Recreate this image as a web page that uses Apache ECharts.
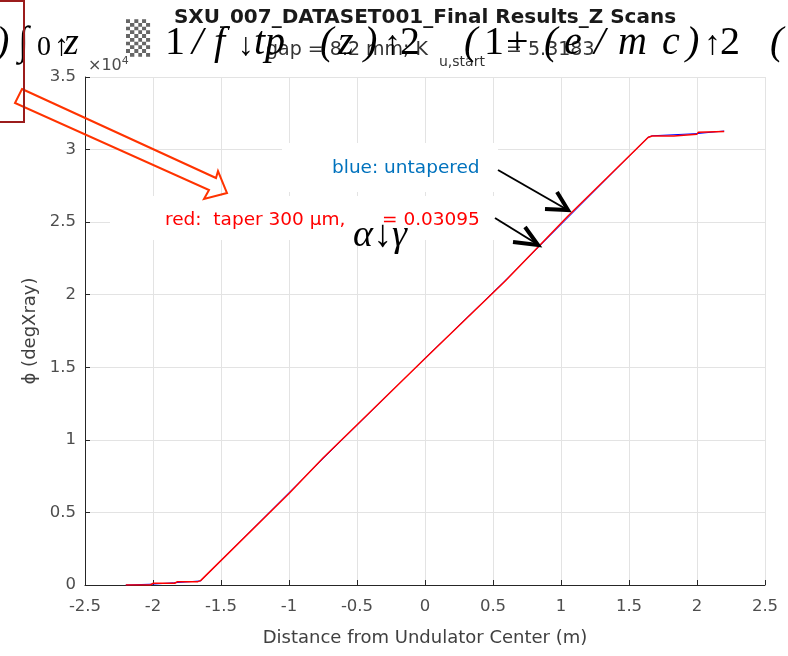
<!DOCTYPE html>
<html>
<head>
<meta charset="utf-8">
<title>SXU_007 Z Scans</title>
<script src="https://cdn.jsdelivr.net/npm/echarts@6/dist/echarts.min.js"></script>
<style>
  html, body { margin: 0; padding: 0; background: #fff; }
  #chart { width: 788px; height: 656px; }
</style>
</head>
<body>
<div id="chart"></div>
<script>
// 数据：相位 vs 位置 (红 = taper, 蓝 = untapered)
const redX = [-2.2, -2.02, -2.0, -1.84, -1.82, -1.67, -1.65, -1.0, -0.75, 0, 0.59, 1.05, 1.64, 1.67, 1.83, 1.84, 2.0, 2.01, 2.2];
const redY = [0, 0, 120, 120, 230, 230, 300, 6300, 8750, 15600, 20950, 25400, 30830, 30940, 30940, 31060, 31060, 31200, 31240];
const blueX = [-2.2, -2.0, -1.85, -1.65, -0.75, 0, 0.59, 1.64, 1.67, 2.0, 2.2];
const blueY = [0, 60, 150, 280, 8700, 15620, 20980, 30850, 30950, 31100, 31280];

const xTicks = [-2.5, 2.5, 0.5];      // min, max, interval
const yTicks = [0, 35000, 5000];

const titleText = 'SXU_007_DATASET001_Final Results_Z Scans';
const xName = 'Distance from Undulator Center (m)';
const yName = 'ϕ (degXray)';

const FONT = 'DejaVu Sans';
const SERIF = 'Liberation Serif';

const chart = echarts.init(document.getElementById('chart'));

// 公式残影 (PowerPoint 乱码公式)  [x, 字符, 样式, 字号]
const eqPieces = [
  [-4, ')', 'italic', 40], [18, '∫', 'normal', 40], [37, '0', 'normal', 28], [54, '↑', 'normal', 30],
  [64, 'z', 'italic', 38], [165, '1', 'normal', 40], [192, '/', 'italic', 40], [214, 'f', 'italic', 40],
  [238, '↓', 'normal', 32], [254, 'tp', 'italic', 40], [320, '(', 'italic', 40], [338, 'z', 'italic', 40],
  [364, ')', 'italic', 40], [384, '↑', 'normal', 34], [400, '2', 'normal', 40], [464, '(', 'italic', 40],
  [484, '1', 'normal', 40], [506, '+', 'normal', 40], [544, '(', 'italic', 40], [564, 'e', 'italic', 40],
  [594, '/', 'italic', 40], [618, 'm', 'italic', 40], [662, 'c', 'italic', 40], [686, ')', 'italic', 40],
  [704, '↑', 'normal', 34], [720, '2', 'normal', 40], [770, '(', 'italic', 40]
];

const graphics = [];

// 白色文本框 (遮住网格线)
graphics.push({ type: 'rect', z: 5, shape: { x: 282, y: 143, width: 216, height: 49 }, style: { fill: '#fff' } });
graphics.push({ type: 'rect', z: 5, shape: { x: 110, y: 196, width: 388, height: 44 }, style: { fill: '#fff' } });

eqPieces.forEach(p => {
  graphics.push({
    type: 'text', z: 20, x: p[0], y: 57 - 0.34 * p[3],
    style: {
      text: p[1], fill: '#000', textVerticalAlign: 'middle',
      font: p[2] + ' ' + p[3] + 'px "' + SERIF + '"'
    }
  });
});
graphics.push({
  type: 'text', z: 20, x: 126, y: 41, scaleX: 1.25,
  style: { text: '▒', fill: '#666', textVerticalAlign: 'middle', font: 'italic 32px "DejaVu Sans Mono"' }
});

// 标题与副标题
graphics.push({ type: 'text', z: 15, x: 425, y: 18, style: { text: titleText, fill: '#1a1a1a', textAlign: 'center', textVerticalAlign: 'middle', font: 'bold 20px "' + FONT + '"' } });
graphics.push({ type: 'text', z: 15, x: 428, y: 50, style: { text: 'gap = 8.2 mm; K', fill: '#333', textAlign: 'right', textVerticalAlign: 'middle', font: '19px "' + FONT + '"' } });
graphics.push({ type: 'text', z: 15, x: 439, y: 62, style: { text: 'u,start', fill: '#333', textVerticalAlign: 'middle', font: '14px "' + FONT + '"' } });
graphics.push({ type: 'text', z: 15, x: 500, y: 50, style: { text: ' = 5.3183', fill: '#333', textVerticalAlign: 'middle', font: '19px "' + FONT + '"' } });

// ×10^4
graphics.push({
  type: 'text', z: 15, x: 88, y: 66,
  style: {
    text: '{a|×10}{b|4}', textVerticalAlign: 'middle',
    rich: {
      a: { font: '16px "' + FONT + '"', fill: '#4d4d4d' },
      b: { font: '11px "' + FONT + '"', fill: '#4d4d4d', padding: [0, 0, 10, 0] }
    }
  }
});

// 注释文字
graphics.push({ type: 'text', z: 15, x: 332, y: 168, style: { text: 'blue: untapered', fill: '#0072BD', textVerticalAlign: 'middle', font: '18.5px "' + FONT + '"' } });
graphics.push({ type: 'text', z: 15, x: 165, y: 220, style: { text: 'red:  taper 300 μm,', fill: '#ff0000', textVerticalAlign: 'middle', font: '18.5px "' + FONT + '"' } });
graphics.push({ type: 'text', z: 15, x: 382, y: 220, style: { text: '= 0.03095', fill: '#ff0000', textVerticalAlign: 'middle', font: '18.5px "' + FONT + '"' } });
graphics.push({ type: 'text', z: 20, x: 353, y: 236, style: { text: 'α↓γ', fill: '#000', textVerticalAlign: 'middle', font: 'italic 38px "' + SERIF + '"' } });

// 黑色箭头
graphics.push({ type: 'polyline', z: 20, shape: { points: [[498, 170], [566, 209]] }, style: { stroke: '#000', lineWidth: 2 } });
graphics.push({ type: 'polyline', z: 20, shape: { points: [[545, 209], [568, 210], [557, 192]] }, style: { stroke: '#000', lineWidth: 4, fill: 'none' } });
graphics.push({ type: 'polyline', z: 20, shape: { points: [[495, 218], [537, 244]] }, style: { stroke: '#000', lineWidth: 2 } });
graphics.push({ type: 'polyline', z: 20, shape: { points: [[513, 242], [538, 245], [525, 227]] }, style: { stroke: '#000', lineWidth: 4, fill: 'none' } });

// 红色空心箭头
graphics.push({
  type: 'polygon', z: 20,
  shape: { points: [[22, 89], [216, 178], [218, 171], [227, 193], [204, 199], [209, 190], [15, 103]] },
  style: { stroke: '#ff3300', lineWidth: 2, fill: 'none' }
});

// 左上角深红框
graphics.push({
  type: 'polyline', z: 20,
  shape: { points: [[0, 1], [24, 1], [24, 122], [0, 122]] },
  style: { stroke: '#9b1c1c', lineWidth: 2, fill: 'none' }
});

const axisCommon = {
  axisTick: { inside: true, length: 5, lineStyle: { color: '#262626' } },
  splitLine: { show: true, lineStyle: { color: '#e3e3e3', width: 1 } },
  nameTextStyle: { fontFamily: FONT, fontSize: 18, color: '#404040' }
};

const option = {
  animation: false,
  backgroundColor: '#fff',
  grid: { left: 85, right: 23, top: 77, bottom: 71 },
  xAxis: Object.assign({}, axisCommon, {
    type: 'value',
    min: xTicks[0], max: xTicks[1], interval: xTicks[2],
    name: xName, nameLocation: 'middle', nameGap: 44,
    axisLine: { onZero: false, lineStyle: { color: '#262626', width: 1 } },
    axisLabel: { fontFamily: FONT, fontSize: 16.5, color: '#4d4d4d', margin: 13 }
  }),
  yAxis: Object.assign({}, axisCommon, {
    type: 'value',
    min: yTicks[0], max: yTicks[1], interval: yTicks[2],
    name: yName, nameLocation: 'middle', nameGap: 46, nameRotate: 90,
    axisLine: { onZero: false, lineStyle: { color: '#262626', width: 1 } },
    axisLabel: { fontFamily: FONT, fontSize: 16.5, color: '#4d4d4d', margin: 9, formatter: v => String(v / 10000) }
  }),
  graphic: graphics,
  series: [
    {
      name: 'untapered', type: 'line', showSymbol: false, z: 2,
      data: blueX.map((x, i) => [x, blueY[i]]),
      lineStyle: { color: '#0000ff', width: 1 }
    },
    {
      name: 'taper', type: 'line', showSymbol: false, z: 3,
      data: redX.map((x, i) => [x, redY[i]]),
      lineStyle: { color: '#ff0000', width: 1.5 }
    }
  ]
};

chart.setOption(option);
</script>
</body>
</html>
